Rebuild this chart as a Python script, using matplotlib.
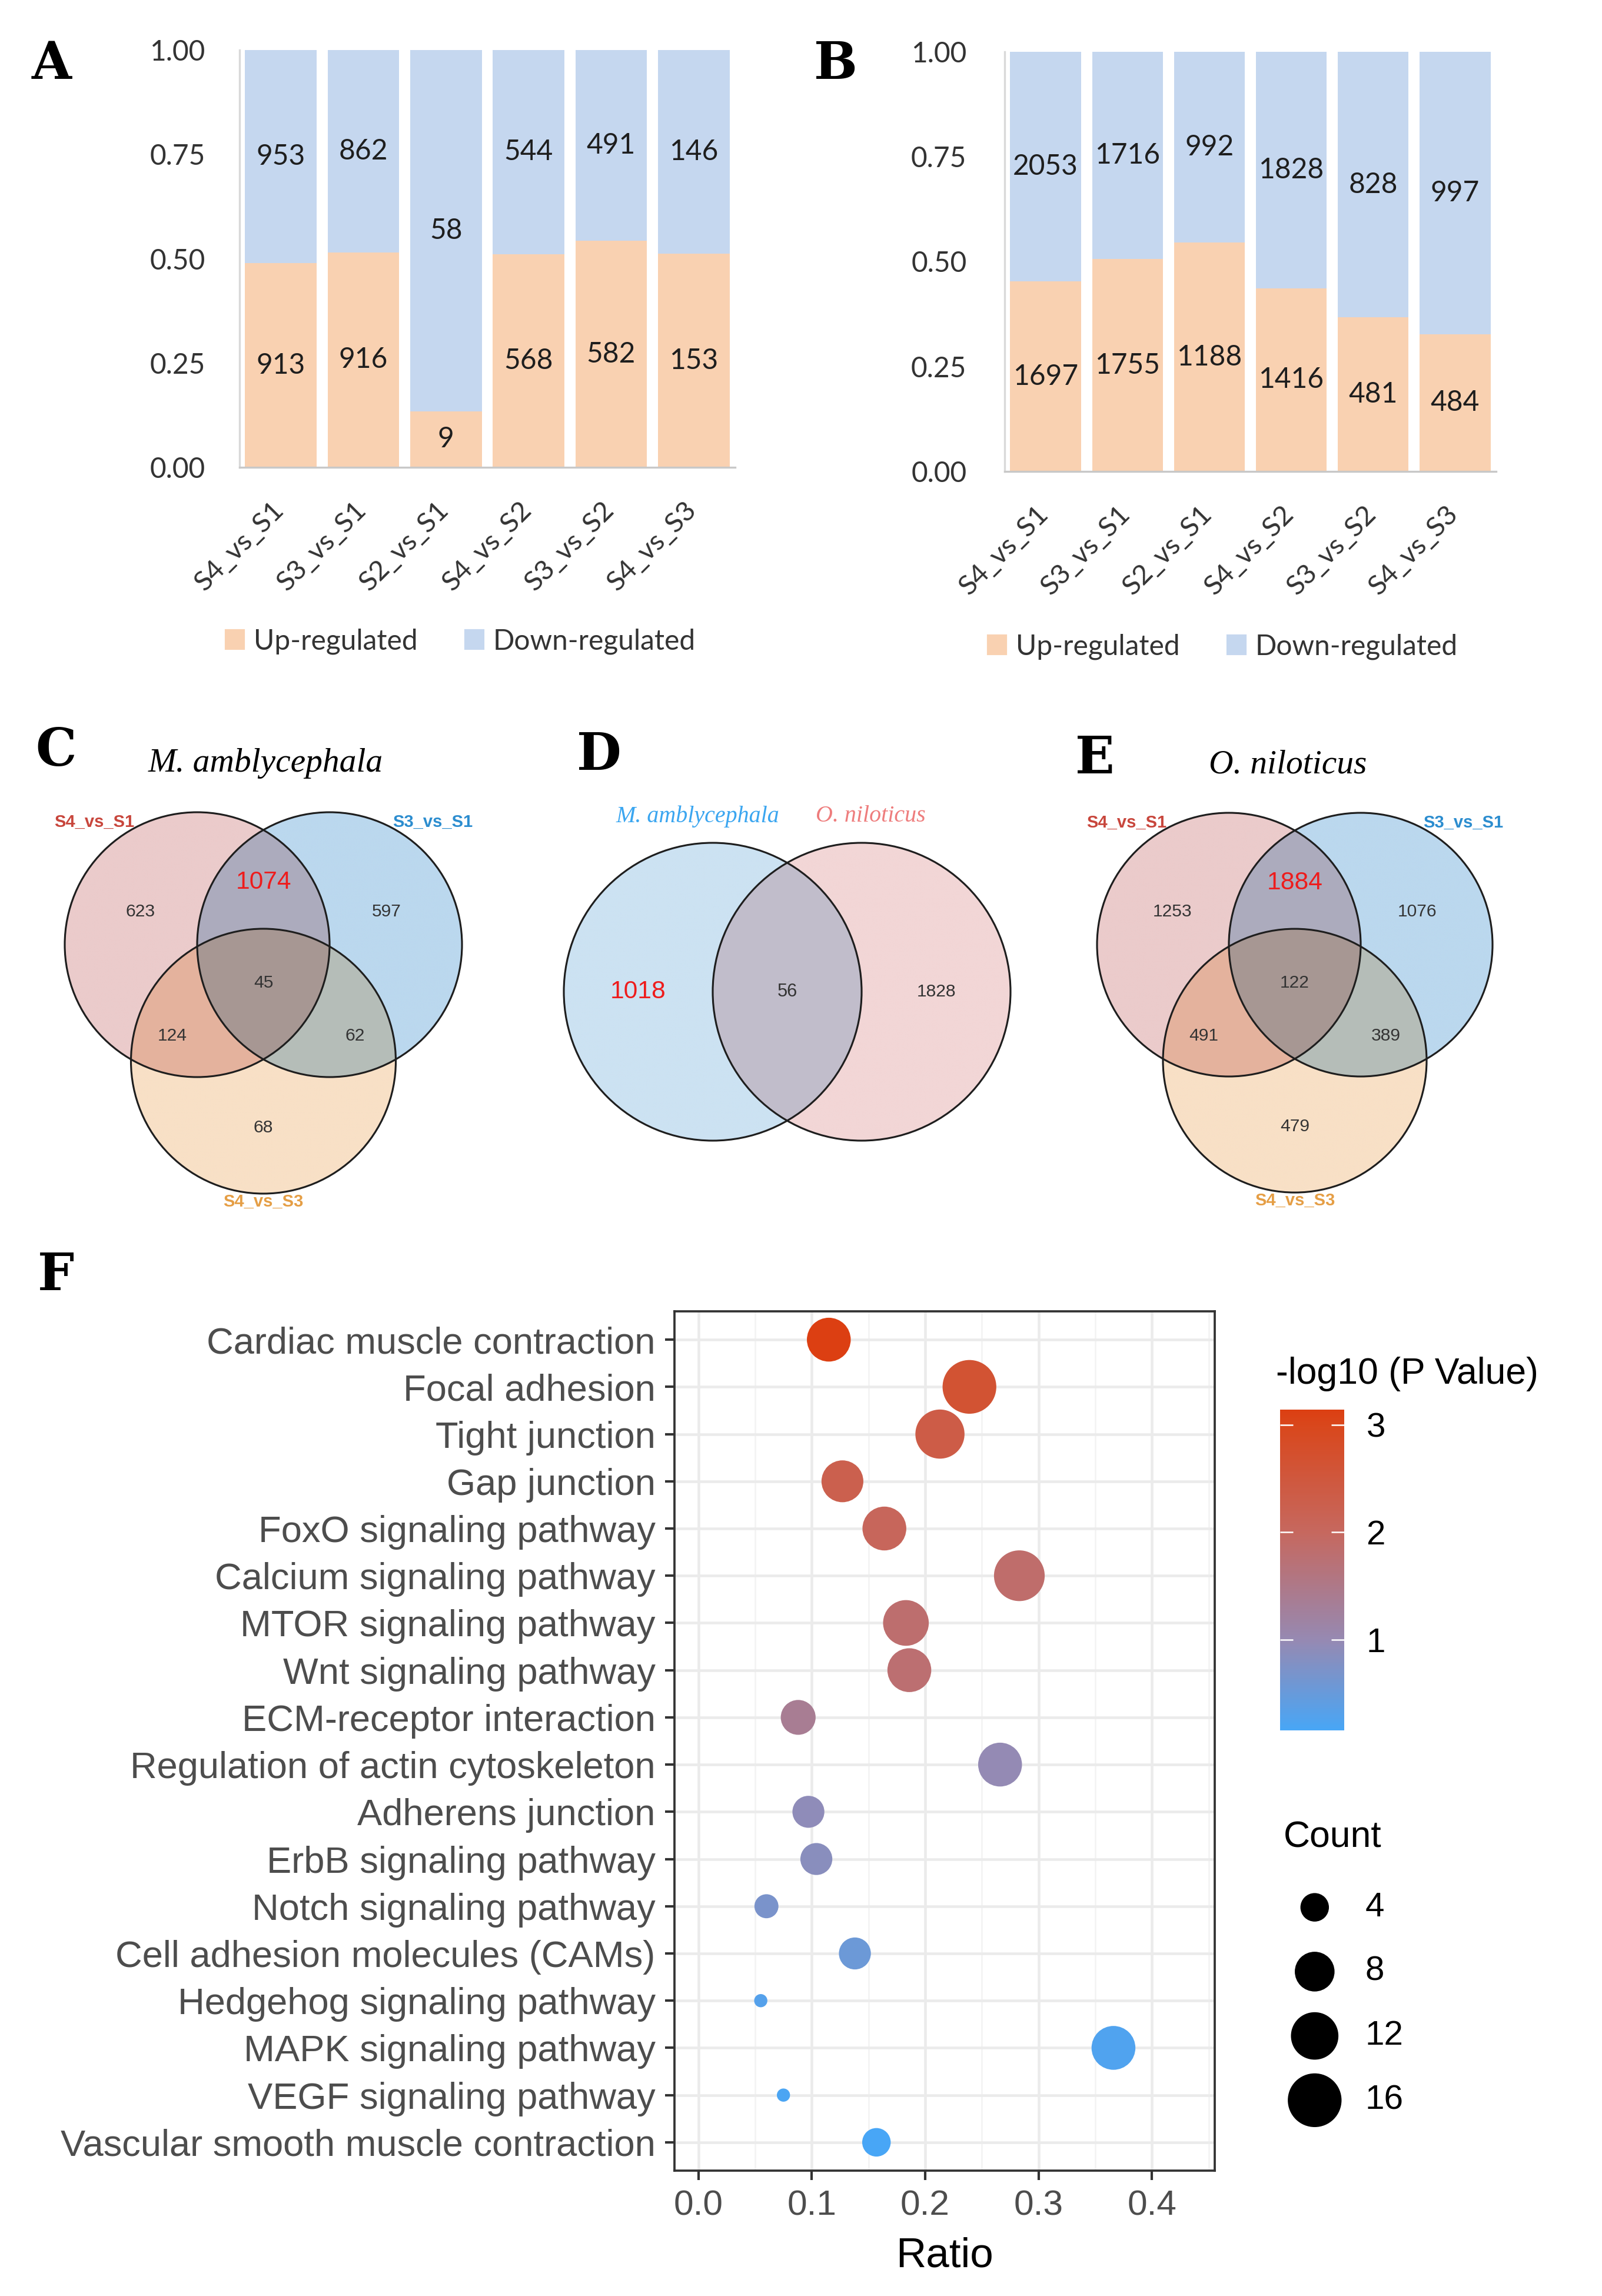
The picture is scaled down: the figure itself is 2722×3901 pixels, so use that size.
import numpy as np
import matplotlib
matplotlib.use("Agg")
import matplotlib.pyplot as plt
import matplotlib.patches as patches
import matplotlib.cm as cm
from matplotlib.colors import LinearSegmentedColormap, Normalize, to_rgb
from matplotlib.ticker import MultipleLocator

W, H = 2722, 3901
DPI = 300

# ---------------- data ----------------
comparisons = ["S4_vs_S1", "S3_vs_S1", "S2_vs_S1", "S4_vs_S2", "S3_vs_S2", "S4_vs_S3"]
up_A = [913, 916, 9, 568, 582, 153]
down_A = [953, 862, 58, 544, 491, 146]
up_B = [1697, 1755, 1188, 1416, 481, 484]
down_B = [2053, 1716, 992, 1828, 828, 997]

venn_sets = ["S4_vs_S1", "S3_vs_S1", "S4_vs_S3"]
# region keys: membership in (set1, set2, set3)
venn_C = {"100": 623, "010": 597, "110": 1074, "111": 45, "101": 124, "011": 62, "001": 68}
venn_E = {"100": 1253, "010": 1076, "110": 1884, "111": 122, "101": 491, "011": 389, "001": 479}
venn_D_sets = ["M. amblycephala", "O. niloticus"]
venn_D = {"10": 1018, "11": 56, "01": 1828}

pathways = ["Cardiac muscle contraction", "Focal adhesion", "Tight junction", "Gap junction",
            "FoxO signaling pathway", "Calcium signaling pathway", "MTOR signaling pathway",
            "Wnt signaling pathway", "ECM-receptor interaction", "Regulation of actin cytoskeleton",
            "Adherens junction", "ErbB signaling pathway", "Notch signaling pathway",
            "Cell adhesion molecules (CAMs)", "Hedgehog signaling pathway", "MAPK signaling pathway",
            "VEGF signaling pathway", "Vascular smooth muscle contraction"]
ratio = [0.115, 0.239, 0.213, 0.127, 0.164, 0.283, 0.183, 0.186, 0.088, 0.266,
         0.097, 0.104, 0.060, 0.138, 0.055, 0.366, 0.075, 0.157]
count = [10, 16, 13, 9, 10, 14, 11, 10, 6, 10, 5, 5, 3, 5, 2, 10, 2, 4]
log_p = [3.14, 2.65, 2.35, 2.25, 2.05, 1.85, 1.82, 1.78, 1.38, 0.98,
         0.92, 0.86, 0.70, 0.55, 0.30, 0.25, 0.20, 0.16]
count_breaks = [4, 8, 12, 16]

UP_COLOR = "#F9D1B1"
DOWN_COLOR = "#C5D7EF"

fig = plt.figure(figsize=(W / DPI, H / DPI), dpi=DPI)


def px_rect(x0, y0, x1, y1):
    return [x0 / W, 1 - y1 / H, (x1 - x0) / W, (y1 - y0) / H]


def letter(txt, x, y):
    fig.text(x / W, 1 - y / H, txt, fontsize=21, fontweight="bold", family="DejaVu Serif",
             ha="center", va="center")


# ---------------- A / B stacked bars ----------------
def stacked_panel(rect, up, down, tick_pad, legend_xy):
    ax = fig.add_axes(rect)
    up = np.array(up, float)
    down = np.array(down, float)
    tot = up + down
    fu = up / tot
    fd = down / tot
    x = np.arange(len(comparisons))
    ax.bar(x, fu, width=0.865, color=UP_COLOR, linewidth=0, label="Up-regulated")
    ax.bar(x, fd, bottom=fu, width=0.865, color=DOWN_COLOR, linewidth=0, label="Down-regulated")
    for i in range(len(x)):
        ax.text(x[i], fu[i] / 2, str(int(up[i])), ha="center", va="center",
                fontsize=11.5, family="Lato", color="#1E1E1E")
        ax.text(x[i], fu[i] + fd[i] / 2, str(int(down[i])), ha="center", va="center",
                fontsize=11.5, family="Lato", color="#1E1E1E")
        ax.text(x[i] + 0.09, -0.072, comparisons[i], rotation=45, ha="right", va="top",
                fontsize=11.3, family="Lato", color="#333333",
                transform=ax.get_xaxis_transform())
    ax.set_xlim(-0.5, 5.5)
    ax.set_ylim(0, 1)
    ax.set_xticks([])
    ax.set_yticks([0, 0.25, 0.5, 0.75, 1.0])
    ax.set_yticklabels(["0.00", "0.25", "0.50", "0.75", "1.00"], family="Lato", fontsize=11.5,
                       color="#333333")
    ax.tick_params(axis="y", length=0, pad=tick_pad)
    for s in ["top", "right"]:
        ax.spines[s].set_visible(False)
    ax.spines["left"].set_color("#D9D9D9")
    ax.spines["bottom"].set_color("#C8C8C8")
    ax.spines["left"].set_linewidth(0.8)
    ax.spines["bottom"].set_linewidth(0.8)
    handles = [patches.Patch(color=UP_COLOR), patches.Patch(color=DOWN_COLOR)]
    fig.legend(handles, ["Up-regulated", "Down-regulated"], loc="center",
               bbox_to_anchor=(legend_xy[0] / W, 1 - legend_xy[1] / H), ncol=2, frameon=False,
               handlelength=0.62, handleheight=0.62, handletextpad=0.35, columnspacing=1.7,
               prop={"family": "Lato", "size": 11.5}, labelcolor="#333333")
    return ax


stacked_panel(px_rect(407, 85, 1249, 794), up_A, down_A, 14, (783, 1090))
stacked_panel(px_rect(1707, 88, 2542, 801), up_B, down_B, 15.5, (2078, 1099))
letter("A", 88, 109)
letter("B", 1420, 109)


# ---------------- Venn diagrams ----------------
def venn_axes(cx, cy, scale, ext):
    ax = fig.add_axes(px_rect(cx - ext * scale, cy - ext * scale, cx + ext * scale, cy + ext * scale))
    ax.set_xlim(-ext, ext)
    ax.set_ylim(-ext, ext)
    ax.set_aspect("equal")
    ax.axis("off")
    ax.patch.set_alpha(0)
    return ax


def venn_fill(ax, centers, colors, ext):
    n = 1200
    g = np.linspace(-ext, ext, n)
    gx, gy = np.meshgrid(g, g)
    img = np.ones((n, n, 4))
    img[..., 3] = 0
    for (cx, cy), col in zip(centers, colors):
        inside = (gx - cx) ** 2 + (gy - cy) ** 2 <= 1.0
        rgb = np.array(to_rgb(col))
        img[inside, :3] *= rgb
        img[inside, 3] = 1
    ax.imshow(img, extent=(-ext, ext, -ext, ext), origin="lower", interpolation="bilinear", zorder=1)
    for (cx, cy) in centers:
        ax.add_patch(patches.Circle((cx, cy), 1.0, fill=False, ec="#1E1E1E", lw=0.75, zorder=2))


def venn3(cx, cy, scale, counts, highlight):
    ext = 2.2
    ax = venn_axes(cx, cy, scale, ext)
    centers = [(-0.5, 0.0), (0.5, 0.0), (0.0, -0.88)]
    venn_fill(ax, centers, ["#EBCBCB", "#BBD8EE", "#F8E0C6"], ext)
    # label layout in circle-radius units
    spots = {"100": (-0.93, 0.25), "010": (0.93, 0.25), "110": (0.0, 0.47), "111": (0.0, -0.29),
             "101": (-0.69, -0.69), "011": (0.69, -0.69), "001": (0.0, -1.38)}
    for key, (px, py) in spots.items():
        if key == highlight:
            ax.text(px, py, str(counts[key]), ha="center", va="center", fontsize=10.2,
                    color="#EE1C1C", family="Liberation Sans", zorder=3)
        else:
            ax.text(px, py, str(counts[key]), ha="center", va="center", fontsize=7.2,
                    color="#333333", family="Liberation Sans", zorder=3)
    cat_pos = [-40, 40, 180]
    cat_dist = [1.21, 1.21, 1.06]
    cat_col = ["#C8463C", "#2C8DCF", "#E59E45"]
    for (ccx, ccy), a, d, col, name in zip(centers, cat_pos, cat_dist, cat_col, venn_sets):
        t = np.deg2rad(a)
        ax.text(ccx + d * np.sin(t), ccy + d * np.cos(t), name, ha="center", va="center",
                fontsize=7, fontweight="bold", color=col, family="Liberation Sans", zorder=3)
    return ax


venn3(447.5, 1605, 225, venn_C, "110")
venn3(2200, 1605, 224, venn_E, "110")

# two-set Venn (D)
extD = 1.9
axD = venn_axes(1337.5, 1685, 253, extD)
centersD = [(-0.5, 0.0), (0.5, 0.0)]
venn_fill(axD, centersD, ["#CCE2F2", "#F2D6D6"], extD)
edges = sorted([centersD[0][0] - 1, centersD[1][0] - 1, centersD[0][0] + 1, centersD[1][0] + 1])
mids = [(edges[i] + edges[i + 1]) / 2 for i in range(3)]
axD.text(mids[0], 0, str(venn_D["10"]), ha="center", va="center", fontsize=10.2, color="#EE1C1C",
         family="Liberation Sans", zorder=3)
axD.text(mids[1], 0, str(venn_D["11"]), ha="center", va="center", fontsize=7.4, color="#333333",
         family="Liberation Sans", zorder=3)
axD.text(mids[2], 0, str(venn_D["01"]), ha="center", va="center", fontsize=7.2, color="#333333",
         family="Liberation Sans", zorder=3)
for (ccx, ccy), a, col, name in zip(centersD, [-5, 3], ["#3BA6F0", "#EE7D7D"], venn_D_sets):
    t = np.deg2rad(a)
    axD.text(ccx + 1.18 * np.sin(t), ccy + 1.18 * np.cos(t), name, ha="center", va="center",
             fontsize=9.6, style="italic", color=col, family="Liberation Serif", zorder=3)

letter("C", 95, 1276)
letter("D", 1018, 1283)
letter("E", 1860, 1290)
fig.text(451 / W, 1 - 1297 / H, "M. amblycephala", fontsize=13.8, style="italic",
         family="Liberation Serif", ha="center", va="center")
fig.text(2188 / W, 1 - 1300 / H, "O. niloticus", fontsize=13.8, style="italic",
         family="Liberation Serif", ha="center", va="center")

# ---------------- F bubble plot ----------------
cmap = LinearSegmentedColormap.from_list(
    "pval", [(0.0, "#48A6F6"), (0.282, "#9689B2"), (0.617, "#C6685F"), (0.953, "#D9471C"),
             (1.0, "#DC3F12")])
norm = Normalize(vmin=min(log_p), vmax=max(log_p))


def bubble_size(c):
    c = np.asarray(c, float)
    d_px = 22.4 + 68.9 * np.sqrt((c - 2) / 14.0)
    return (d_px * 72.0 / DPI) ** 2


axF = fig.add_axes(px_rect(1146, 2228, 2064, 3688))
ypos = np.arange(len(pathways))[::-1]
axF.scatter(ratio, ypos, s=bubble_size(count), c=log_p, cmap=cmap, norm=norm,
            edgecolors="none", zorder=3)
axF.set_yticks(ypos)
axF.set_yticklabels(pathways, family="Liberation Sans", fontsize=15.2, color="#4D4D4D")
axF.set_ylim(-0.6, len(pathways) - 1 + 0.6)
axF.set_xlim(-0.0211, 0.4553)
axF.set_xticks([0, 0.1, 0.2, 0.3, 0.4])
axF.set_xticklabels(["0.0", "0.1", "0.2", "0.3", "0.4"], family="Liberation Sans", fontsize=14.5,
                    color="#4D4D4D")
axF.xaxis.set_minor_locator(MultipleLocator(0.05))
axF.tick_params(which="minor", length=0)
axF.tick_params(which="major", length=3.8, width=1.0, color="#333333", pad=4)
axF.grid(which="major", color="#EBEBEB", lw=1.1)
axF.grid(which="minor", axis="x", color="#F3F3F3", lw=0.6)
axF.set_axisbelow(True)
for s in axF.spines.values():
    s.set_color("#333333")
    s.set_linewidth(0.9)
axF.set_xlabel("Ratio", family="Liberation Sans", fontsize=17, labelpad=6)

# colour bar
cax = fig.add_axes(px_rect(2175, 2395, 2284, 2940))
cb = fig.colorbar(cm.ScalarMappable(norm=norm, cmap=cmap), cax=cax)
cb.outline.set_visible(False)
cb.set_ticks([1, 2, 3])
cax.yaxis.set_ticks_position("both")
cax.tick_params(direction="in", length=5.3, width=0.6, color="white", labelsize=14, pad=9,
                labelleft=False, labelright=True)
for t in cax.get_yticklabels():
    t.set_family("Liberation Sans")
fig.text(2168 / W, 1 - 2334 / H, "-log10 (P Value)", fontsize=15, family="Liberation Sans",
         ha="left", va="center")

# size legend
lax = fig.add_axes(px_rect(2175, 3186, 2420, 3623))
lax.set_xlim(0, 1)
lax.set_ylim(-0.5, len(count_breaks) - 0.5)
lax.axis("off")
lrows = np.arange(len(count_breaks))[::-1]
lax.scatter([0.24] * len(count_breaks), lrows, s=bubble_size(count_breaks), color="black",
            edgecolors="none")
for r, c in zip(lrows, count_breaks):
    lax.text(0.59, r, str(c), ha="left", va="center", fontsize=14, family="Liberation Sans")
fig.text(2181 / W, 1 - 3122 / H, "Count", fontsize=15, family="Liberation Sans",
         ha="left", va="center")

letter("F", 95, 2167)

fig.savefig("out.png", dpi=DPI)
